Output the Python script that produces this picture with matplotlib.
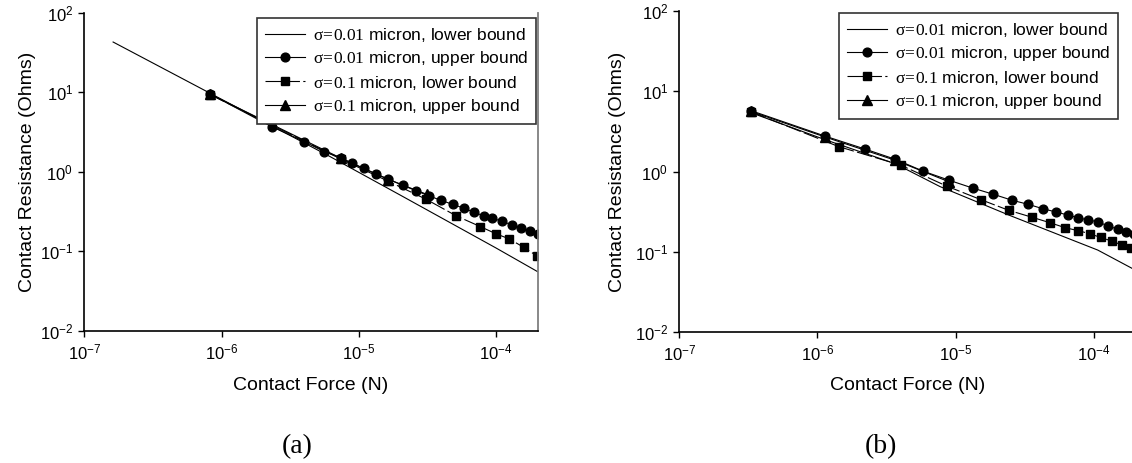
import numpy as np
import matplotlib
matplotlib.use('Agg')
import matplotlib.pyplot as plt
from matplotlib.ticker import LogLocator, FuncFormatter, NullLocator

plt.rcParams['font.family'] = ['Liberation Sans', 'DejaVu Sans']
plt.rcParams['mathtext.fontset'] = 'custom'
plt.rcParams['mathtext.rm'] = 'Liberation Serif'
plt.rcParams['mathtext.it'] = 'Liberation Serif:italic'
plt.rcParams['mathtext.sf'] = 'Liberation Sans'

labels = [r'$\mathrm{σ\!=\!0.01}$ micron, lower bound',
          r'$\mathrm{σ\!=\!0.01}$ micron, upper bound',
          r'$\mathrm{σ\!=\!0.1}$ micron, lower bound',
          r'$\mathrm{σ\!=\!0.1}$ micron, upper bound']

# ---- panel (a) data: force (N), resistance (Ohms)
a_low_f = [1.62e-7, 1.0e-6, 6.18e-6, 2.0e-5, 1.0e-4, 2.0e-4]
a_low_r = [42.8, 8.15, 1.55, 0.51, 0.11, 0.0557]

a_up_f = [8.24e-7, 2.31e-6, 4.01e-6, 5.61e-6, 7.36e-6, 8.91e-6, 1.08e-5, 1.33e-5,
          1.64e-5, 2.08e-5, 2.59e-5, 3.23e-5, 3.93e-5, 4.83e-5, 5.78e-5, 6.92e-5,
          8.08e-5, 9.38e-5, 1.10e-4, 1.30e-4, 1.52e-4, 1.76e-4, 2.01e-4]
a_up_r = [9.5, 3.70, 2.39, 1.79, 1.51, 1.28, 1.11, 0.94,
          0.81, 0.68, 0.58, 0.50, 0.44, 0.39, 0.35, 0.31,
          0.28, 0.26, 0.24, 0.215, 0.195, 0.18, 0.164]

a_sq_f = [8.24e-7, 7.36e-6, 1.64e-5, 3.08e-5, 5.13e-5, 7.66e-5, 1.0e-4, 1.24e-4, 1.58e-4, 1.98e-4]
a_sq_r = [9.35, 1.45, 0.76, 0.453, 0.279, 0.205, 0.166, 0.144, 0.113, 0.0877]

a_tri_f = [8.24e-7, 7.36e-6, 1.64e-5, 3.14e-5]
a_tri_r = [9.45, 1.49, 0.80, 0.52]

# ---- panel (b) data
b_low_f = [3.31e-7, 1.13e-6, 3.66e-6, 7.7e-6, 2.45e-5, 1.07e-4, 1.9e-4]
b_low_r = [5.4, 2.5, 1.25, 0.65, 0.285, 0.105, 0.062]

b_up_f = [3.31e-7, 1.13e-6, 2.20e-6, 3.66e-6, 5.83e-6, 9.03e-6, 1.33e-5, 1.88e-5,
          2.57e-5, 3.36e-5, 4.28e-5, 5.34e-5, 6.5e-5, 7.73e-5, 9.14e-5, 1.07e-4,
          1.27e-4, 1.49e-4, 1.71e-4, 1.95e-4]
b_up_r = [5.73, 2.77, 1.91, 1.42, 1.01, 0.776, 0.622, 0.52,
          0.438, 0.39, 0.344, 0.313, 0.287, 0.265, 0.249, 0.237,
          0.209, 0.192, 0.178, 0.165]

b_sq_f = [3.31e-7, 1.43e-6, 4.01e-6, 8.61e-6, 1.53e-5, 2.42e-5, 3.58e-5, 4.83e-5,
          6.21e-5, 7.75e-5, 9.35e-5, 1.12e-4, 1.35e-4, 1.59e-4, 1.85e-4]
b_sq_r = [5.55, 2.04, 1.20, 0.659, 0.445, 0.329, 0.269, 0.230,
          0.1995, 0.183, 0.168, 0.151, 0.136, 0.122, 0.111]

b_tri_f = [3.31e-7, 1.13e-6, 3.66e-6, 9.03e-6]
b_tri_r = [5.6, 2.7, 1.38, 0.74]

fig = plt.figure(figsize=(11.32, 4.63), dpi=100)
ax_a = fig.add_axes([0.0745, 0.2851, 0.4004, 0.6875])
ax_b = fig.add_axes([0.6001, 0.2829, 0.4028, 0.6933])


def draw(ax, low, up, sq, tri, leg_loc, leg_anchor):
    h1, = ax.plot(low[0], low[1], color='black', lw=0.8)
    h4, = ax.plot(tri[0], tri[1], color='black', lw=0.8, marker='^', ms=6.5)
    h3, = ax.plot(sq[0], sq[1], color='black', lw=0.8, ls=(0, (14, 3)), marker='s', ms=5.8)
    h2, = ax.plot(up[0], up[1], color='black', lw=0.8, marker='o', ms=6.3)
    ax.set_xscale('log')
    ax.set_yscale('log')
    ax.set_xlim(1e-7, 2e-4)
    ax.set_ylim(1e-2, 1e2)
    ax.xaxis.set_major_locator(LogLocator(base=10, numticks=10))
    ax.yaxis.set_major_locator(LogLocator(base=10, numticks=10))
    ax.xaxis.set_minor_locator(NullLocator())
    ax.yaxis.set_minor_locator(NullLocator())
    fmt = FuncFormatter(lambda v, p: r'$\mathsf{10^{%d}}$' % round(np.log10(v)))
    ax.xaxis.set_major_formatter(fmt)
    ax.yaxis.set_major_formatter(fmt)
    ax.tick_params(direction='out', length=4, width=1, labelsize=12, pad=4)
    ax.spines['top'].set_visible(False)
    ax.spines['right'].set_color('#7f7f7f')
    ax.spines['right'].set_linewidth(1.3)
    for s in ['left', 'bottom']:
        ax.spines[s].set_linewidth(1.2)
    ax.set_xlabel('Contact Force (N)', fontsize=14)
    ax.set_ylabel('Contact Resistance (Ohms)', fontsize=14)
    leg = ax.legend([h1, h2, h3, h4], labels, loc=leg_loc, bbox_to_anchor=leg_anchor,
                    borderaxespad=0, fontsize=12.5, frameon=True, fancybox=False,
                    edgecolor='#333333', framealpha=1, handlelength=2.3,
                    handletextpad=0.45, labelspacing=0.3, borderpad=0.45)
    leg.get_frame().set_linewidth(1.2)


draw(ax_a, (a_low_f, a_low_r), (a_up_f, a_up_r), (a_sq_f, a_sq_r), (a_tri_f, a_tri_r),
     'upper right', (0.9967, 0.9824))
draw(ax_b, (b_low_f, b_low_r), (b_up_f, b_up_r), (b_sq_f, b_sq_r), (b_tri_f, b_tri_r),
     'upper left', (0.3513, 0.9928))

ax_a.yaxis.set_label_coords(-0.107, 0.5)
ax_b.yaxis.set_label_coords(-0.118, 0.5)
ax_a.xaxis.set_label_coords(0.5, -0.1455)
ax_b.xaxis.set_label_coords(0.5, -0.141)

fig.text(297.5 / 1132, 1 - 447 / 463, '(a)', fontsize=20, family='Liberation Serif',
         ha='center', va='center')
fig.text(881 / 1132, 1 - 447 / 463, '(b)', fontsize=20, family='Liberation Serif',
         ha='center', va='center')

fig.savefig('out.png', dpi=100)
